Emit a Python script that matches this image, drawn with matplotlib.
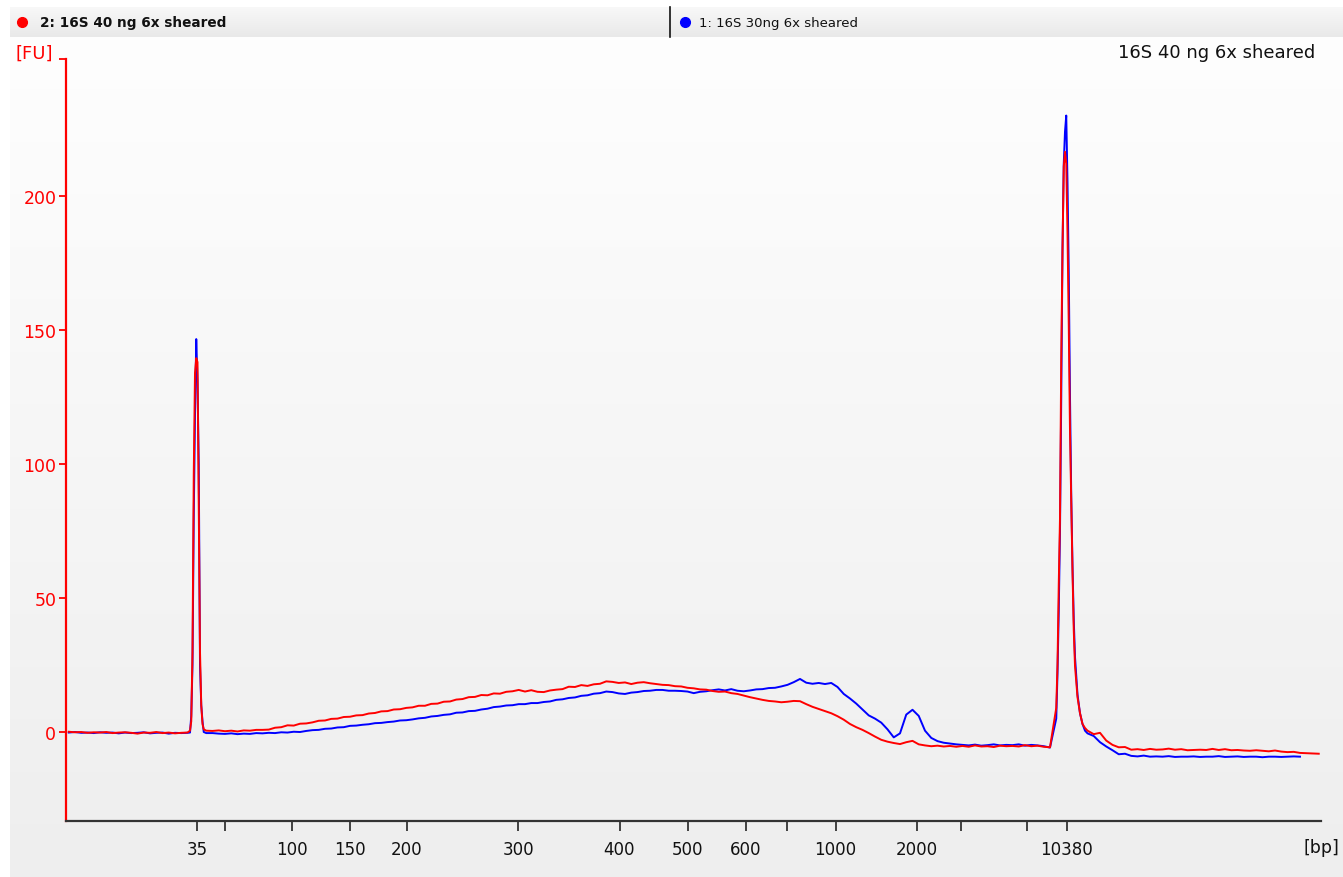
import numpy as np
import matplotlib
matplotlib.use("Agg")
import matplotlib.pyplot as plt
from matplotlib.colors import LinearSegmentedColormap

# ---------------- data ----------------
# migration time (s) sampling grid
time_s = [
    33.5, 34.0, 34.5, 35.0, 35.5, 36.0, 36.5, 37.0, 37.5, 38.0, 38.5, 39.0, 39.5, 40.0, 40.5, 41.0, 41.5, 42.0, 42.5,
    43.0, 43.2, 43.3, 43.4, 43.5, 43.6, 43.7, 43.8, 43.9, 44.0, 44.1, 44.2, 44.3, 44.5,
    45.0, 45.5, 46.0, 46.5, 47.0, 47.5, 48.0, 48.5,
    49.0, 49.5, 50.0, 50.5, 51.0, 51.5, 52.0, 52.5,
    53.0, 53.5, 54.0, 54.5, 55.0, 55.5, 56.0, 56.5,
    57.0, 57.5, 58.0, 58.5, 59.0, 59.5, 60.0, 60.5,
    61.0, 61.5, 62.0, 62.5, 63.0, 63.5, 64.0, 64.5,
    65.0, 65.5, 66.0, 66.5, 67.0, 67.5, 68.0, 68.5,
    69.0, 69.5, 70.0, 70.5, 71.0, 71.5, 72.0, 72.5,
    73.0, 73.5, 74.0, 74.5, 75.0, 75.5, 76.0, 76.5,
    77.0, 77.5, 78.0, 78.5, 79.0, 79.5, 80.0, 80.5,
    81.0, 81.5, 82.0, 82.5, 83.0, 83.5, 84.0, 84.5,
    85.0, 85.5, 86.0, 86.5, 87.0, 87.5, 88.0, 88.5,
    89.0, 89.5, 90.0, 90.5, 91.0, 91.5, 92.0, 92.5,
    93.0, 93.5, 94.0, 94.5, 95.0, 95.5, 96.0, 96.5,
    97.0, 97.5, 98.0, 98.5, 99.0, 99.5, 100.0, 100.5,
    101.0, 101.5, 102.0, 102.5, 103.0, 103.5, 104.0, 104.5,
    105.0, 105.5, 106.0, 106.5, 107.0, 107.5, 108.0, 108.5,
    109.0, 109.5, 110.0, 110.5, 111.0, 111.5, 112.0, 112.5,
    112.6, 112.7, 112.8, 112.9, 113.0, 113.1, 113.2, 113.3, 113.4, 113.5,
    113.6, 113.7, 113.8, 113.9, 114.0, 114.2, 114.4, 114.6, 114.8, 115.0,
    115.5, 116.0, 116.5, 117.0, 117.5, 118.0, 118.5, 119.0,
    119.5, 120.0, 120.5, 121.0, 121.5, 122.0, 122.5, 123.0,
    123.5, 124.0, 124.5, 125.0, 125.5, 126.0, 126.5, 127.0,
    127.5, 128.0, 128.5, 129.0, 129.5, 130.0, 130.5, 131.0,
    131.5, 132.0, 132.5, 133.0, 133.5,
]

# sample 2: 16S 40 ng 6x sheared (red)
red_fu = [
    0.1, -0.1, 0.0, -0.3, -0.1, -0.2, 0.0, -0.4, -0.2, -0.1, -0.3, -0.6, -0.2, -0.3, 0.0, -0.4, -0.2, -0.5, -0.3,
    -0.2, 0.5, 4.0, 30.0, 96.0, 134.0, 139.5, 138.0, 84.0, 30.0, 10.0, 3.0, 1.0, 0.5,
    0.4, 0.6, 0.3, 0.5, 0.2, 0.6, 0.5, 0.8,
    0.8, 0.9, 1.6, 1.8, 2.5, 2.4, 3.1, 3.2,
    3.6, 4.2, 4.3, 4.9, 5.0, 5.6, 5.7, 6.2,
    6.3, 6.9, 7.1, 7.7, 7.8, 8.4, 8.5, 9.0,
    9.2, 9.8, 9.8, 10.5, 10.6, 11.3, 11.4, 12.1,
    12.3, 13.0, 13.1, 13.8, 13.7, 14.4, 14.3, 15.0,
    15.2, 15.7, 15.1, 15.6, 15.0, 14.9, 15.5, 15.8,
    16.0, 16.9, 16.8, 17.5, 17.2, 17.8, 18.0, 18.9,
    18.7, 18.3, 18.5, 17.9, 18.4, 18.6, 18.2, 17.9,
    17.6, 17.5, 17.1, 17.0, 16.5, 16.3, 15.9, 15.8,
    15.3, 15.0, 15.1, 14.5, 14.2, 13.6, 13.0, 12.5,
    12.0, 11.6, 11.4, 11.1, 11.3, 11.6, 11.5, 10.4,
    9.4, 8.6, 7.8, 7.0, 5.9, 4.6, 3.0, 1.8,
    0.8, -0.4, -1.7, -2.9, -3.6, -4.1, -4.5, -3.8,
    -3.3, -4.6, -5.0, -5.3, -5.1, -5.4, -5.2, -5.5,
    -5.2, -5.5, -5.0, -5.4, -5.3, -5.6, -5.1, -5.3,
    -5.2, -5.4, -4.9, -5.3, -5.1, -5.5, -5.7, 9.0,
    25.0, 55.0, 80.0, 140.0, 180.0, 211.0, 216.5, 212.0, 186.0, 152.0,
    112.0, 86.0, 60.0, 38.0, 24.7, 13.0, 7.0, 3.0, 1.5, 0.5,
    -0.8, -0.3, -3.2, -4.8, -5.7, -5.6, -6.6, -6.4,
    -6.7, -6.3, -6.6, -6.5, -6.2, -6.6, -6.4, -6.8,
    -6.7, -6.6, -6.7, -6.3, -6.7, -6.4, -6.8, -6.7,
    -6.9, -7.0, -6.8, -7.0, -7.2, -6.9, -7.3, -7.5,
    -7.4, -7.8, -7.9, -8.0, -8.1,
]

# sample 1: 16S 30ng 6x sheared (blue)
blue_fu = [
    -0.2, 0.0, -0.3, -0.2, -0.4, -0.1, -0.3, -0.2, -0.5, -0.2, -0.4, -0.3, -0.1, -0.5, -0.3, -0.2, -0.6, -0.3, -0.4,
    -0.3, -0.2, 6.0, 25.0, 80.0, 118.0, 146.6, 131.0, 100.0, 25.0, 10.0, 4.0, 0.0, -0.4,
    -0.4, -0.6, -0.7, -0.5, -0.8, -0.6, -0.7, -0.4,
    -0.5, -0.3, -0.4, -0.1, -0.2, 0.1, 0.0, 0.4,
    0.7, 0.8, 1.2, 1.3, 1.7, 1.8, 2.3, 2.4,
    2.7, 2.9, 3.3, 3.4, 3.7, 3.9, 4.3, 4.4,
    4.7, 5.1, 5.3, 5.8, 6.0, 6.4, 6.6, 7.2,
    7.3, 7.8, 7.9, 8.4, 8.7, 9.3, 9.5, 9.9,
    10.0, 10.4, 10.4, 10.8, 10.8, 11.2, 11.4, 12.0,
    12.2, 12.7, 12.9, 13.5, 13.7, 14.3, 14.5, 15.1,
    14.9, 14.4, 14.2, 14.7, 14.9, 15.3, 15.4, 15.7,
    15.7, 15.4, 15.4, 15.3, 15.1, 14.5, 15.0, 15.2,
    15.6, 15.9, 15.5, 16.0, 15.4, 15.2, 15.5, 15.9,
    16.0, 16.4, 16.5, 17.0, 17.6, 18.6, 19.8, 18.4,
    18.0, 18.3, 17.9, 18.3, 16.8, 14.2, 12.5, 10.6,
    8.4, 6.2, 5.0, 3.5, 1.0, -2.0, -0.5, 6.5,
    8.3, 6.0, 0.5, -2.2, -3.4, -4.0, -4.3, -4.6,
    -4.8, -5.0, -4.7, -5.1, -4.9, -4.6, -5.0, -4.8,
    -4.9, -4.6, -5.1, -4.8, -5.0, -5.3, -5.8, 5.0,
    22.0, 45.0, 75.0, 125.0, 180.0, 212.0, 224.0, 230.0, 205.0, 172.0,
    125.0, 88.0, 62.0, 42.0, 28.0, 14.0, 7.0, 3.0, 0.5, -0.5,
    -1.5, -3.8, -5.4, -6.8, -8.3, -8.1, -8.9, -9.1,
    -8.8, -9.2, -9.1, -9.2, -9.0, -9.3, -9.2, -9.2,
    -9.1, -9.3, -9.2, -9.2, -9.0, -9.3, -9.2, -9.1,
    -9.3, -9.2, -9.2, -9.4, -9.2, -9.2, -9.3, -9.2,
    -9.1, -9.2,
]

# ladder: migration time of size markers and their labels (bp)
ladder_time = [43.76, 45.96, 51.36, 55.96, 60.52, 69.44, 77.56, 83.0, 87.68, 90.96,
               94.84, 101.36, 104.88, 110.16, 113.32]
ladder_labels = ["35", "", "100", "150", "200", "300", "400", "500", "600", "",
                 "1000", "2000", "", "", "10380"]

fu_ticks = [0, 50, 100, 150, 200]

sample_red = "2: 16S 40 ng 6x sheared"
sample_blue = "1: 16S 30ng 6x sheared"
title = "16S 40 ng 6x sheared"

# ---------------- figure ----------------
W, H = 1343, 878
fig = plt.figure(figsize=(W / 100, H / 100), dpi=100)
fig.patch.set_facecolor("white")

# background gradient panel
bg = fig.add_axes([10 / W, 0, 1 - 10 / W, (H - 38) / H], zorder=-10)
grad = np.linspace(0, 1, 256).reshape(-1, 1)
cm_bg = LinearSegmentedColormap.from_list("bg", ["#fefefe", "#eeeeee"])
bg.imshow(grad, aspect="auto", cmap=cm_bg, extent=[0, 1, 0, 1], origin="upper")
bg.set_axis_off()

# header bar
hd = fig.add_axes([10 / W, 1 - 38 / H, 1 - 10 / W, 30 / H], zorder=-5)
cm_hd = LinearSegmentedColormap.from_list("hd", ["#f8f8f8", "#e9e9e9"])
hd.imshow(grad, aspect="auto", cmap=cm_hd, extent=[0, 1, 0, 1], origin="upper")
hd.set_xlim(0, 1)
hd.set_ylim(0, 1)
hd.set_axis_off()

# main axes
ax = fig.add_axes([66 / W, 1 - 822 / H, (1321 - 66) / W, (822 - 60) / H])
ax.set_facecolor("none")
ax.plot(time_s[:len(blue_fu)], blue_fu, color="#0000ff", lw=1.4, zorder=3)
ax.plot(time_s[:len(red_fu)], red_fu, color="#ff0000", lw=1.4, zorder=4)

ymin, ymax = -33.2, 251.1
ax.set_xlim(33.28, 133.68)
ax.set_ylim(ymin, ymax)

for s in ["top", "right"]:
    ax.spines[s].set_visible(False)
ax.spines["left"].set_color("#ff0000")
ax.spines["left"].set_linewidth(1.6)
ax.spines["bottom"].set_color("#333333")
ax.spines["bottom"].set_linewidth(1.6)

ax.set_yticks(fu_ticks + [ymax])
ax.set_yticklabels([str(v) for v in fu_ticks] + [""])
ax.tick_params(axis="y", direction="out", length=5, width=1.3, color="#ff0000",
               labelcolor="#ff0000", labelsize=12.5, pad=2)

ax.set_xticks(ladder_time)
ax.set_xticklabels(ladder_labels)
ax.tick_params(axis="x", direction="out", length=7, width=1.3, color="#333333",
               labelcolor="#111111", labelsize=12, pad=7)

ax.text(1.0, -0.0341, "[bp]", transform=ax.transAxes, ha="center", va="center",
        fontsize=12.5, color="#111111")
fig.text(53 / W, 1 - 54 / H, "[FU]", ha="right", va="center", fontsize=13, color="#ff0000")
fig.text(1315 / W, 1 - 53 / H, title, ha="right", va="center", fontsize=13, color="#111111")

# header legend
fig.text(40 / W, 1 - 23 / H, sample_red, ha="left", va="center", fontsize=9.8,
         fontweight="bold", color="#111111")
fig.text(699 / W, 1 - 23 / H, sample_blue, ha="left", va="center", fontsize=9.5,
         color="#111111")
fig.add_artist(matplotlib.lines.Line2D([22 / W], [1 - 23 / H], marker="o", markersize=7,
                                       color="#ff0000", transform=fig.transFigure))
fig.add_artist(matplotlib.lines.Line2D([685 / W], [1 - 23 / H], marker="o", markersize=7,
                                       color="#0000ff", transform=fig.transFigure))
fig.add_artist(matplotlib.lines.Line2D([670 / W, 670 / W], [1 - 8 / H, 1 - 38 / H],
                                       color="#111111", lw=1.2, transform=fig.transFigure))

fig.savefig("out.png", dpi=100, facecolor="white")
